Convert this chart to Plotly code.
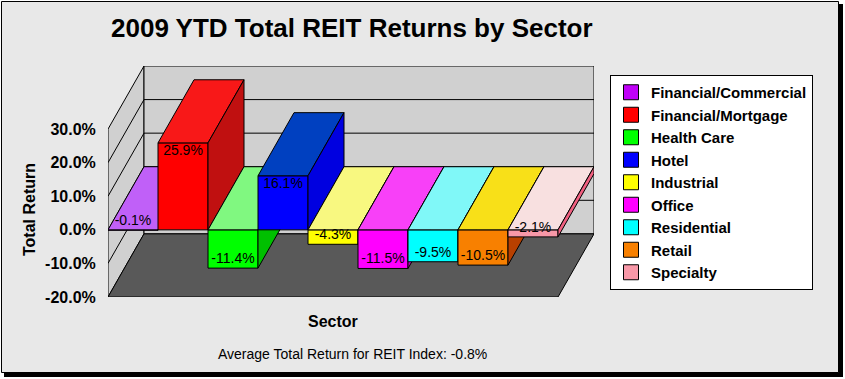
import plotly.graph_objects as go

# ---------------- data ----------------
sectors = ["Financial/Commercial", "Financial/Mortgage", "Health Care", "Hotel",
           "Industrial", "Office", "Residential", "Retail", "Specialty"]
returns = [-0.1, 25.9, -11.4, 16.1, -4.3, -11.5, -9.5, -10.5, -2.1]
y_ticks = [-20, -10, 0, 10, 20, 30]
y_tick_labels = ["-20.0%", "-10.0%", "0.0%", "10.0%", "20.0%", "30.0%"]
title_text = "2009 YTD Total REIT Returns by Sector"
x_title = "Sector"
y_title = "Total Return"
footnote = "Average Total Return for REIT Index: -0.8%"

# ---------------- styles ----------------
front_colors = ["#C000F8", "#FF0000", "#00FF00", "#0000FF", "#FFFF00",
                "#FF00FF", "#00FFFF", "#F88000", "#F898A8"]
top_colors = ["#C060F8", "#F81818", "#80F880", "#0040C0", "#F8F880",
              "#F840F8", "#80F8F8", "#F8E018", "#F8E0E0"]
side_colors = ["#9000C0", "#C01010", "#00C000", "#0000E0", "#C0C000",
               "#C000C0", "#00C0C0", "#B84000", "#F06080"]
WALL = "#D0D0D0"
FLOOR = "#595959"
BG = "#E8E8E8"
FONT = "Liberation Sans, Arial, sans-serif"

W, H = 845, 379
PL, PR, PT, PB = 108, 594, 66, 297      # plot area in px
DX, DY = 0.72, 18.8                      # 3-D depth offset (x units, % units)
n = len(sectors)
y_min, y_max = y_ticks[0], y_ticks[-1]
x_range = [0, n + DX]
y_range = [y_min, y_max + DY]


def fx(p):
    return (p - PL) / (PR - PL)


def fy(p):
    return (PB - p) / (PB - PT)


def poly(xs, ys, color, xa="x", ya="y"):
    return go.Scatter(x=list(xs) + [xs[0]], y=list(ys) + [ys[0]], fill="toself",
                      fillcolor=color, mode="lines",
                      line=dict(color="black", width=1),
                      xaxis=xa, yaxis=ya, hoverinfo="skip", showlegend=False)


fig = go.Figure()

# walls & floor (base axes)
fig.add_trace(poly([0, 0, DX, DX], [y_min, y_max, y_max + DY, y_min + DY], WALL))
fig.add_trace(poly([DX, DX, n + DX, n + DX],
                   [y_min + DY, y_max + DY, y_max + DY, y_min + DY], WALL))
gx, gy = [], []
for v in y_ticks[1:-1]:
    gx += [0, DX, n + DX, None]
    gy += [v, v + DY, v + DY, None]
fig.add_trace(go.Scatter(x=gx, y=gy, mode="lines", line=dict(color="black", width=1),
                         hoverinfo="skip", showlegend=False))
fig.add_trace(poly([0, n, n + DX, DX], [y_min, y_min, y_min + DY, y_min + DY], FLOOR))

# legend entries
for s, c in zip(sectors, front_colors):
    fig.add_trace(go.Scatter(x=[None], y=[None], mode="markers", name=s,
                             marker=dict(symbol="square", size=15, color=c,
                                         line=dict(color="black", width=1))))

# bars, each in its own overlaid subplot so they paint left to right
for i, (v, s) in enumerate(zip(returns, sectors)):
    k = i + 2
    xa, ya = f"x{k}", f"y{k}"
    lo, hi = min(v, 0), max(v, 0)
    fig.add_trace(go.Bar(x=[i + 0.5], y=[v], width=1, base=0, name=s,
                         marker=dict(color=front_colors[i], line=dict(color="black", width=1)),
                         xaxis=xa, yaxis=ya, showlegend=False, hoverinfo="skip"))
    fig.add_trace(poly([i, i + 1, i + 1 + DX, i + DX], [hi, hi, hi + DY, hi + DY],
                       top_colors[i], xa, ya))
    fig.add_trace(poly([i + 1, i + 1, i + 1 + DX, i + 1 + DX],
                       [lo, hi, hi + DY, lo + DY], side_colors[i], xa, ya))

# data labels (topmost layer)
last = n + 1
lab_off = 2.6
fig.add_trace(go.Scatter(
    x=[i + 0.5 for i in range(n)],
    y=[v - (lab_off if v > 0 else -lab_off) for v in returns],
    text=[f"{v:.1f}%" for v in returns], mode="text",
    textfont=dict(family=FONT, size=14, color="black"),
    xaxis=f"x{last}", yaxis=f"y{last}", hoverinfo="skip", showlegend=False))

layout = dict(
    width=W, height=H,
    margin=dict(l=PL, r=W - PR, t=PT, b=H - PB, pad=0),
    paper_bgcolor="white", plot_bgcolor="rgba(0,0,0,0)",
    showlegend=True,
    legend=dict(x=fx(610), y=fy(75), xanchor="left", yanchor="top",
                bgcolor="white", bordercolor="black", borderwidth=1,
                font=dict(family=FONT, size=15, color="black", weight="bold"),
                traceorder="normal"),
    xaxis=dict(range=x_range, visible=False, fixedrange=True),
    yaxis=dict(range=y_range, tickvals=y_ticks, ticktext=y_tick_labels,
               showgrid=False, zeroline=False, showline=False,
               ticks="outside", ticklen=8, tickcolor="rgba(0,0,0,0)",
               tickfont=dict(family=FONT, size=16, color="black", weight="bold"),
               fixedrange=True),
    shapes=[
        dict(type="rect", xref="paper", yref="paper", layer="below",
             x0=fx(4), x1=fx(843), y0=fy(377), y1=fy(4),
             fillcolor="black", line=dict(width=0)),
        dict(type="rect", xref="paper", yref="paper", layer="below",
             x0=fx(1.5), x1=fx(838.5), y0=fy(372.5), y1=fy(1.5),
             fillcolor=BG, line=dict(color="black", width=1)),
    ],
    annotations=[
        dict(text=title_text, xref="paper", yref="paper", x=fx(352), y=fy(28),
             xanchor="center", yanchor="middle", showarrow=False,
             font=dict(family=FONT, size=26, color="black", weight="bold")),
        dict(text=y_title, xref="paper", yref="paper", x=fx(29), y=fy(210),
             xanchor="center", yanchor="middle", showarrow=False, textangle=-90,
             font=dict(family=FONT, size=16, color="black", weight="bold")),
        dict(text=x_title, xref="paper", yref="paper", x=fx(333), y=fy(321),
             xanchor="center", yanchor="middle", showarrow=False,
             font=dict(family=FONT, size=16, color="black", weight="bold")),
        dict(text=footnote, xref="paper", yref="paper", x=fx(352), y=fy(354),
             xanchor="center", yanchor="middle", showarrow=False,
             font=dict(family=FONT, size=14, color="black")),
    ],
)
for k in range(2, n + 2):
    layout[f"xaxis{k}"] = dict(overlaying="x", anchor=f"y{k}", range=x_range,
                               visible=False, fixedrange=True)
    layout[f"yaxis{k}"] = dict(overlaying="y", anchor=f"x{k}", range=y_range,
                               visible=False, fixedrange=True)
fig.update_layout(**layout)

fig.write_html("out.html",
               config={"displayModeBar": False},
               post_script="document.body.style.margin='0px';"
                           "document.body.style.overflow='hidden';")
